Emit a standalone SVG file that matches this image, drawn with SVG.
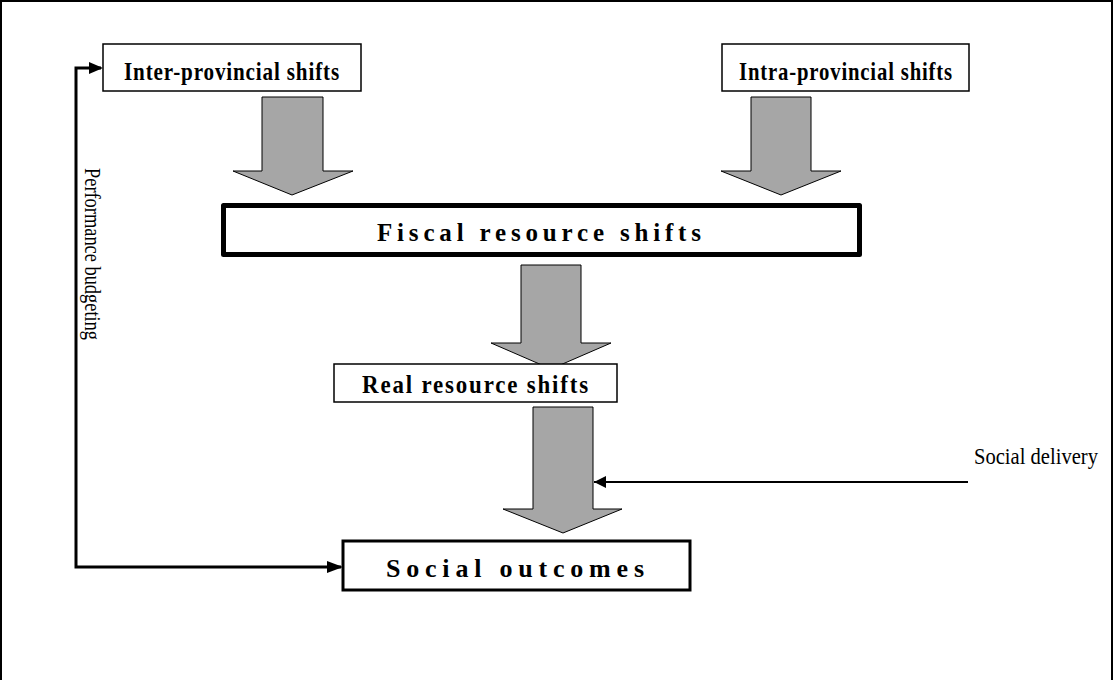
<svg xmlns="http://www.w3.org/2000/svg" width="1114" height="680" viewBox="0 0 1114 680">
<style>
.box{fill:#fff;stroke:#000}
.lbl{font-family:"Liberation Serif","Times New Roman",serif;font-weight:bold;font-size:25px;fill:#000;text-anchor:middle}
.reg{font-family:"Liberation Serif","Times New Roman",serif;font-size:24px;fill:#000}
.big{fill:#a6a6a6;stroke:#000;stroke-width:1}
.ln{fill:none;stroke:#000}
</style>
<defs>
<marker id="ah" viewBox="0 0 10 10" refX="10" refY="5" markerWidth="14" markerHeight="12" markerUnits="userSpaceOnUse" orient="auto">
<path d="M0,0 L10,5 L0,10 z" fill="#000"/>
</marker>
</defs>
<rect x="1" y="1" width="1111" height="720" fill="none" stroke="#000" stroke-width="2"/>
<g id="connectors">
<path class="big" d="M262,97 L323,97 L323,171 L353,171 L292,195 L233,171 L262,171 z"/>
<path class="big" d="M751,97 L811,97 L811,171 L841,171 L781,195 L721,171 L751,171 z"/>
<path class="big" d="M521,265 L581,265 L581,343 L611,343 L551,369 L491,343 L521,343 z"/>
<path class="big" d="M533,407 L593,407 L593,509 L622,509 L563,533 L503,509 L533,509 z"/>
<path class="ln" stroke-width="2" d="M968,482 L594,482" marker-end="url(#ah)"/>
<path class="ln" stroke-width="3" d="M101,68 L76,68 L76,567 L341,567"/>
<path d="M89,62 L103,68 L89,74 z" fill="#000"/>
<path d="M327,561 L343,567 L327,573 z" fill="#000"/>
</g>
<g id="inter">
<rect class="box" stroke-width="1.5" x="103" y="44" width="258" height="47"/>
<text class="lbl" x="232" y="80" textLength="216" lengthAdjust="spacingAndGlyphs" letter-spacing="1">Inter-provincial shifts</text>
</g>
<g id="intra">
<rect class="box" stroke-width="1.5" x="722" y="44" width="247" height="47"/>
<text class="lbl" x="846" y="80" textLength="214" lengthAdjust="spacingAndGlyphs" letter-spacing="1">Intra-provincial shifts</text>
</g>
<g id="fiscal">
<rect class="box" stroke-width="5" stroke-linejoin="round" x="223.5" y="205.5" width="636" height="49"/>
<text class="lbl" x="541" y="241" textLength="328" lengthAdjust="spacing" letter-spacing="4">Fiscal resource shifts</text>
</g>
<g id="real">
<rect class="box" stroke-width="1.5" x="334" y="364" width="283" height="38"/>
<text class="lbl" x="476" y="393" textLength="228" lengthAdjust="spacingAndGlyphs" letter-spacing="2">Real resource shifts</text>
</g>
<g id="outcomes">
<rect class="box" stroke-width="3" x="343" y="541" width="347" height="49"/>
<text class="lbl" x="517" y="577" textLength="262" lengthAdjust="spacing" letter-spacing="4" style="font-size:26px">Social outcomes</text>
</g>
<g id="delivery">
<text class="reg" x="974" y="464" textLength="124" lengthAdjust="spacingAndGlyphs" style="font-size:23px">Social delivery</text>
</g>
<g id="perf">
<text class="reg" transform="translate(85,168) rotate(90)" textLength="172" lengthAdjust="spacingAndGlyphs">Performance budgeting</text>
</g>
</svg>
